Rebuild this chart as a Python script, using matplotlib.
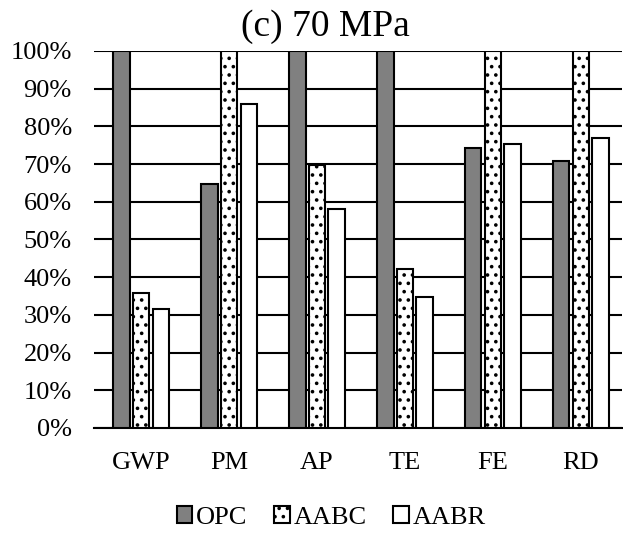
import matplotlib.pyplot as plt
import numpy as np

plt.rcParams["font.family"] = ["Liberation Serif", "DejaVu Serif"]
plt.rcParams["hatch.linewidth"] = 1.4

categories = ["GWP", "PM", "AP", "TE", "FE", "RD"]
opc = [100, 64.6, 100, 100, 74.2, 70.9]
aabc = [35.9, 100, 69.8, 42.1, 100, 100]
aabr = [31.5, 85.9, 58.0, 34.8, 75.3, 77.0]

fig = plt.figure(figsize=(6.23, 5.36), dpi=100)
ax = fig.add_axes([0.151, 0.2015, 0.847, 0.7035])

x = np.arange(len(categories))
w = 0.19
step = 0.225
ax.bar(x - step, opc, w, color="#808080", edgecolor="black", linewidth=1.5, label="OPC", zorder=3)
ax.bar(x, aabc, w, color="white", edgecolor="black", linewidth=1.5, hatch="..", label="AABC", zorder=3)
ax.bar(x + step, aabr, w, color="white", edgecolor="black", linewidth=1.5, label="AABR", zorder=3)

ax.set_ylim(0, 100)
ax.set_xlim(-0.535, 5.465)
ax.set_yticks(range(0, 101, 10))
ax.set_yticklabels([f"{v}%" for v in range(0, 101, 10)])
ax.set_xticks(x)
ax.set_xticklabels(categories)
ax.yaxis.grid(True, color="black", linewidth=1.5, zorder=0)
ax.set_axisbelow(True)
for s in ["top", "right", "left"]:
    ax.spines[s].set_visible(False)
ax.spines["bottom"].set_linewidth(1.5)
ax.tick_params(axis="both", length=0, labelsize=19)
ax.tick_params(axis="y", pad=16)
ax.tick_params(axis="x", pad=17)

fig.text(0.5225, 0.95, "(c) 70 MPa", fontsize=27, ha="center", va="center")

fig.legend(loc="center", bbox_to_anchor=(0.532, 0.034), ncol=3, frameon=False,
           fontsize=19, handlelength=0.6, handleheight=0.6, handletextpad=0.15,
           columnspacing=1.0)

fig.savefig("out.png", dpi=100)
